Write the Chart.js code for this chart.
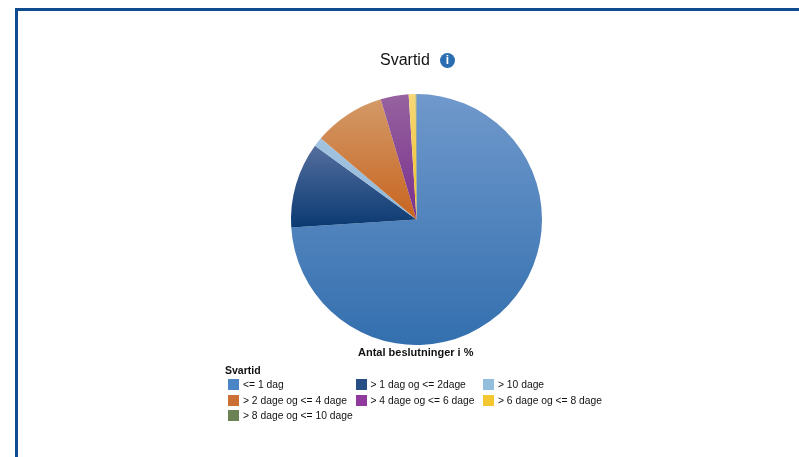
<!DOCTYPE html>
<html>
<head>
<meta charset="utf-8">
<script src="https://cdn.jsdelivr.net/npm/chart.js@4"></script>
<style>
    html, body { margin: 0; padding: 0; background: #fff; overflow: hidden; }
    body { width: 799px; height: 457px; position: relative; font-family: "Liberation Sans", Arial, sans-serif; color: #111; }
    #frame { position: absolute; left: 15px; top: 8px; right: 0; bottom: 0; border-left: 3px solid #0f4c8f; border-top: 3px solid #0f4c8f; }
    #svartidChart { position: absolute; left: 0; top: 0; }
    #title { position: absolute; left: 380px; top: 51px; font-size: 16px; line-height: 18px; }
    #info { position: absolute; left: 440px; top: 53px; width: 15px; height: 15px; border-radius: 50%; background: #2a6db0; color: #fff; font: bold 12px/15px "Liberation Sans", sans-serif; text-align: center; }
    #axisTitle { position: absolute; left: 358px; top: 346px; font-size: 11px; line-height: 12px; font-weight: bold; }
    #legendTitle { position: absolute; left: 225px; top: 364px; font-size: 10.5px; line-height: 12px; font-weight: bold; }
    .item { position: absolute; font-size: 10.3px; line-height: 12px; white-space: nowrap; }
    .swatch { position: absolute; left: -15px; top: 0; width: 11px; height: 11px; }
</style>
</head>
<body>
<div id="frame"></div>
<canvas id="svartidChart" width="799" height="457"></canvas>
<div id="title">Svartid</div>
<div id="info">i</div>
<div id="axisTitle">Antal beslutninger i %</div>
<div id="legendTitle">Svartid</div>
<div id="legend"></div>
<script>
const categories = ['<= 1 dag', '> 1 dag og <= 2dage', '> 10 dage', '> 2 dage og <= 4 dage', '> 4 dage og <= 6 dage', '> 6 dage og <= 8 dage', '> 8 dage og <= 10 dage'];
const shares = [74.0, 11.0, 1.2, 9.2, 3.6, 0.9, 0.1];
const topColors = ['#7099cc', '#566f9f', '#a4c4e0', '#d39a68', '#96639f', '#f5d878', '#7d8f68'];
const bottomColors = ['#336fae', '#0a3a72', '#8fb8da', '#c8641f', '#7a2f8c', '#f2c020', '#55703f'];
const swatchColors = ['#4a86c5', '#274f85', '#92bddd', '#cc6f35', '#8f3a9c', '#f4c62f', '#6b8354'];

// where each slice's fade starts and stops, as a fraction of the pie height
const fadeFrom = [0, 0.2, 0.17, 0.02, 0, 0, 0];
const fadeTo = [1, 0.53, 0.5, 0.5, 0.5, 0.5, 0.5];

function sliceGradient(context) {
    const area = context.chart.chartArea;
    if (!area) return swatchColors[context.dataIndex];
    const i = context.dataIndex;
    const h = area.bottom - area.top;
    const g = context.chart.ctx.createLinearGradient(0, area.top + h * fadeFrom[i], 0, area.top + h * fadeTo[i]);
    g.addColorStop(0, topColors[i]);
    g.addColorStop(1, bottomColors[i]);
    return g;
}

new Chart(document.getElementById('svartidChart'), {
    type: 'pie',
    data: {
        labels: categories,
        datasets: [{
            data: shares,
            backgroundColor: sliceGradient,
            borderWidth: 0
        }]
    },
    options: {
        responsive: false,
        animation: false,
        layout: { padding: { left: 291, right: 257, top: 94, bottom: 112 } },
        plugins: {
            legend: { display: false },
            tooltip: { enabled: false }
        }
    }
});

/* ---------------------------
   LEGEND
---------------------------*/
const legendCols = [243, 370.5, 498];
const legendRows = [379, 395, 410];
const legend = document.getElementById('legend');
categories.forEach((name, i) => {
    const el = document.createElement('div');
    el.className = 'item';
    el.style.left = legendCols[i % 3] + 'px';
    el.style.top = legendRows[Math.floor(i / 3)] + 'px';
    el.textContent = name;
    const sw = document.createElement('span');
    sw.className = 'swatch';
    sw.style.background = swatchColors[i];
    el.appendChild(sw);
    legend.appendChild(el);
});
</script>
</body>
</html>
